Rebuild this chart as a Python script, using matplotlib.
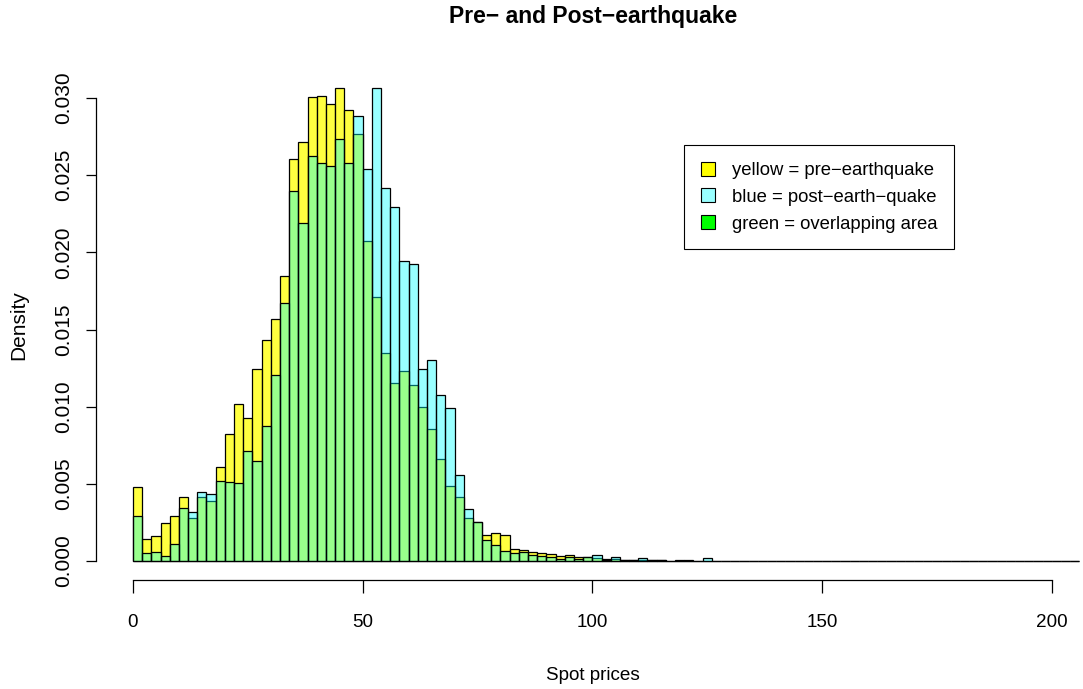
import numpy as np
import matplotlib.pyplot as plt
from matplotlib.patches import Patch

plt.rcParams['font.family'] = ['Liberation Sans', 'DejaVu Sans']

# density per 2-unit bin of spot prices, starting at 0
pre = [0.00477, 0.00143, 0.00160, 0.00244, 0.00292, 0.00413, 0.00276, 0.00413,
       0.00389, 0.00611, 0.00823, 0.01017, 0.00929, 0.01242, 0.01432, 0.01566,
       0.01847, 0.02603, 0.02713, 0.03007, 0.03011, 0.02961, 0.03067, 0.02920,
       0.02769, 0.02074, 0.01713, 0.01346, 0.01151, 0.01229, 0.01140, 0.00998,
       0.00855, 0.00661, 0.00486, 0.00415, 0.00276, 0.00250, 0.00168, 0.00181,
       0.00171, 0.00080, 0.00073, 0.00060, 0.00054, 0.00048, 0.00030, 0.00037,
       0.00024, 0.00024, 0.00017, 0.00013, 0.00011, 0.00005, 0.00004, 0.00006,
       0.00009, 0.00006, 0.00003, 0.00003, 0.00002, 0.00000, 0.00000, 0.00002,
       0.00002, 0.00002, 0.00000, 0.00002, 0.00000, 0.00003, 0.00000, 0.00000,
       0.00000, 0.00000, 0.00000, 0.00000, 0.00000, 0.00000, 0.00000, 0.00000,
       0.00000, 0.00000, 0.00000, 0.00000, 0.00003, 0.00000, 0.00000, 0.00000,
       0.00000, 0.00000, 0.00000, 0.00003, 0.00000, 0.00000, 0.00000, 0.00000,
       0.00000, 0.00000, 0.00000, 0.00000, 0.00000, 0.00000, 0.00000]
post = [0.00294, 0.00050, 0.00056, 0.00030, 0.00108, 0.00341, 0.00320, 0.00447,
        0.00436, 0.00520, 0.00514, 0.00503, 0.00713, 0.00646, 0.00877, 0.01203,
        0.01674, 0.02400, 0.02188, 0.02622, 0.02577, 0.02557, 0.02735, 0.02577,
        0.02881, 0.02538, 0.03067, 0.02415, 0.02294, 0.01944, 0.01927, 0.01242,
        0.01300, 0.01078, 0.00994, 0.00557, 0.00335, 0.00255, 0.00136, 0.00104,
        0.00065, 0.00052, 0.00056, 0.00037, 0.00032, 0.00024, 0.00012, 0.00026,
        0.00011, 0.00026, 0.00041, 0.00008, 0.00024, 0.00009, 0.00009, 0.00017,
        0.00004, 0.00006, 0.00003, 0.00008, 0.00008, 0.00002, 0.00017, 0.00002,
        0.00002, 0.00002, 0.00002, 0.00000, 0.00002, 0.00000, 0.00000, 0.00002,
        0.00000, 0.00000, 0.00000, 0.00002, 0.00000, 0.00002, 0.00000, 0.00002,
        0.00000, 0.00000, 0.00000, 0.00000, 0.00000, 0.00000, 0.00000, 0.00000,
        0.00002, 0.00000, 0.00000, 0.00000, 0.00000, 0.00000, 0.00000, 0.00000,
        0.00000, 0.00000, 0.00000, 0.00000, 0.00000, 0.00000, 0.00000]
bin_width = 2
edges = np.arange(len(pre)) * bin_width

xticks = [0, 50, 100, 150, 200]
yticks = [0.000, 0.005, 0.010, 0.015, 0.020, 0.025, 0.030]
labels = ["yellow = pre\u2212earthquake", "blue = post\u2212earth\u2212quake",
          "green = overlapping area"]

fig = plt.figure(figsize=(10.83, 6.89), dpi=100)
ax = fig.add_axes([0.0886, 0.1582, 0.9178, 0.7417])

# pre-earthquake first, then the translucent post-earthquake bars on top
ax.bar(edges, pre, width=bin_width, align='edge', color=(1, 1, 0, 0.75),
       edgecolor='black', linewidth=0.9)
ax.bar(edges, post, width=bin_width, align='edge', color=(0, 1, 1, 0.4),
       edgecolor='black', linewidth=0.9)

ax.set_xlim(-8.05, 208.3)
ax.set_ylim(-0.00123, 0.03188)

for side in ['top', 'right']:
    ax.spines[side].set_visible(False)
ax.spines['left'].set_bounds(0, 0.030)
ax.spines['bottom'].set_bounds(0, 200)
ax.spines['left'].set_linewidth(0.9)
ax.spines['bottom'].set_linewidth(0.9)

ax.set_xticks(xticks)
ax.set_xticklabels([str(t) for t in xticks])
ax.set_yticks(yticks)
ax.set_yticklabels([f"{t:.3f}" for t in yticks], rotation=90, va='center')
ax.tick_params(axis='x', length=9.4, width=0.9, pad=15, labelsize=13.6)
ax.tick_params(axis='y', length=7.2, width=0.9, pad=9, labelsize=15)

fig.text(593 / 1083, 1 - 17 / 689, "Pre\u2212 and Post\u2212earthquake",
         ha='center', va='center', fontsize=16.5, fontweight='bold')
fig.text(593 / 1083, 1 - 676 / 689, "Spot prices", ha='center', va='center',
         fontsize=13.6)
fig.text(19 / 1083, 1 - 325 / 689, "Density", ha='center', va='center',
         rotation=90, fontsize=15)

handles = [Patch(facecolor='#ffff00', edgecolor='black', linewidth=0.8),
           Patch(facecolor='#99ffff', edgecolor='black', linewidth=0.8),
           Patch(facecolor='#00ff00', edgecolor='black', linewidth=0.8)]
leg = ax.legend(handles, labels, loc='upper left',
                bbox_to_anchor=(684 / 1083, 1 - 145 / 689),
                bbox_transform=fig.transFigure, borderaxespad=0,
                fontsize=13.3, handlelength=0.8, handleheight=0.8,
                handletextpad=0.9, borderpad=0.9, labelspacing=0.5,
                fancybox=False, framealpha=1)
leg.get_frame().set_edgecolor('black')
leg.get_frame().set_linewidth(0.8)

fig.savefig("out.png", dpi=100)
